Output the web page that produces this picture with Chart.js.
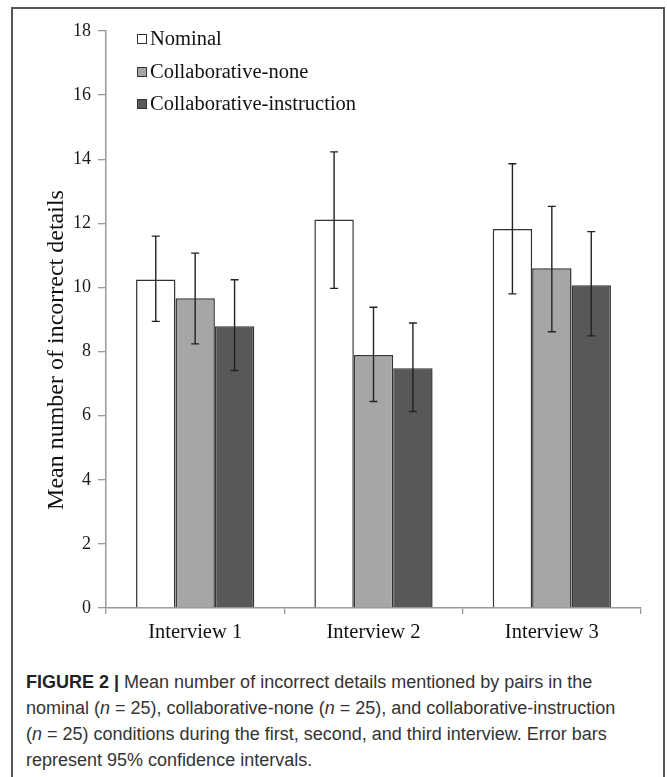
<!DOCTYPE html>
<html>
<head>
<meta charset="utf-8">
<script src="https://cdn.jsdelivr.net/npm/chart.js@4/dist/chart.umd.min.js"></script>
<style>
  body { margin: 0; background: #fff; }
  #wrap { position: relative; width: 667px; height: 777px; overflow: hidden; }
  #frame { position: absolute; left: 11px; top: 7px; width: 654px; height: 800px; border: 2px solid #555; box-sizing: border-box; }
  #chart { position: absolute; left: 0; top: 0; }
  #caption { position: absolute; left: 26px; top: 669px; font-family: "Liberation Sans", Arial, sans-serif; font-size: 18px; line-height: 26px; color: #333; white-space: nowrap; }
  #caption b { color: #222; }
</style>
</head>
<body>
<div id="wrap">
  <div id="frame"></div>
  <canvas id="chart" width="667" height="660"></canvas>
  <div id="caption">
    <b>FIGURE 2 |</b> Mean number of incorrect details mentioned by pairs in the<br>
    nominal (<i>n</i> = 25), collaborative-none (<i>n</i> = 25), and collaborative-instruction<br>
    (<i>n</i> = 25) conditions during the first, second, and third interview. Error bars<br>
    represent 95% confidence intervals.
  </div>
</div>
<script>
const categories = ["Interview 1", "Interview 2", "Interview 3"];
const seriesNames = ["Nominal", "Collaborative-none", "Collaborative-instruction"];

const nominal = [10.25, 12.12, 11.82];
const nominalLow = [8.94, 9.97, 9.80];
const nominalHigh = [11.60, 14.23, 13.86];

const collabNone = [9.66, 7.89, 10.60];
const collabNoneLow = [8.24, 6.44, 8.62];
const collabNoneHigh = [11.07, 9.38, 12.53];

const collabInstr = [8.79, 7.48, 10.07];
const collabInstrLow = [7.41, 6.13, 8.49];
const collabInstrHigh = [10.24, 8.89, 11.74];

const yTicks = [0, 2, 4, 6, 8, 10, 12, 14, 16, 18];
const yTitle = "Mean number of incorrect details";

const fills = ["#ffffff", "#a6a6a6", "#585858"];
const serif = "'Liberation Serif', 'Times New Roman', serif";

// error bars drawn on top of each bar
const errorBars = {
  id: "errorBars",
  afterDatasetsDraw(chart) {
    const ctx = chart.ctx;
    const y = chart.scales.y;
    ctx.save();
    ctx.strokeStyle = "#222";
    ctx.lineWidth = 1.4;
    chart.data.datasets.forEach((ds, i) => {
      const meta = chart.getDatasetMeta(i);
      meta.data.forEach((bar, j) => {
        const top = y.getPixelForValue(ds.errHigh[j]);
        const bot = y.getPixelForValue(ds.errLow[j]);
        ctx.beginPath();
        ctx.moveTo(bar.x, top); ctx.lineTo(bar.x, bot);
        ctx.moveTo(bar.x - 4, top); ctx.lineTo(bar.x + 4, top);
        ctx.moveTo(bar.x - 4, bot); ctx.lineTo(bar.x + 4, bot);
        ctx.stroke();
      });
    });
    ctx.restore();
  }
};

// legend inside the plot + rotated y title
const extras = {
  id: "extras",
  afterDraw(chart) {
    const ctx = chart.ctx;
    ctx.save();
    const rows = [39, 72, 104];
    ctx.font = "20.5px " + serif;
    ctx.textBaseline = "middle";
    chart.data.datasets.forEach((ds, i) => {
      const bx = 137, by = rows[i] - 5;
      ctx.fillStyle = ds.backgroundColor;
      ctx.fillRect(bx, by, 10, 10);
      ctx.strokeStyle = "#333";
      ctx.lineWidth = 1;
      ctx.strokeRect(bx + 0.5, by + 0.5, 9, 9);
      ctx.fillStyle = "#111";
      ctx.fillText(ds.label, 150, rows[i] + 1);
    });
    ctx.translate(57, 350);
    ctx.rotate(-Math.PI / 2);
    ctx.font = "24px " + serif;
    ctx.textAlign = "center";
    ctx.fillStyle = "#111";
    ctx.fillText(yTitle, 0, 0);
    ctx.restore();
  }
};

new Chart(document.getElementById("chart"), {
  type: "bar",
  data: {
    labels: categories,
    datasets: [
      { label: seriesNames[0], data: nominal, errLow: nominalLow, errHigh: nominalHigh, backgroundColor: fills[0] },
      { label: seriesNames[1], data: collabNone, errLow: collabNoneLow, errHigh: collabNoneHigh, backgroundColor: fills[1] },
      { label: seriesNames[2], data: collabInstr, errLow: collabInstrLow, errHigh: collabInstrHigh, backgroundColor: fills[2] }
    ]
  },
  options: {
    responsive: false,
    animation: false,
    datasets: {
      bar: { borderColor: "#333", borderWidth: 1.5, borderSkipped: "bottom", categoryPercentage: 0.663, barPercentage: 1 }
    },
    layout: { padding: { left: 0, top: 31, right: 26, bottom: 0 } },
    plugins: { legend: { display: false }, tooltip: { enabled: false } },
    scales: {
      y: {
        min: 0, max: 18,
        afterBuildTicks: s => { s.ticks = yTicks.map(v => ({ value: v })); },
        afterFit: s => { s.width = 106; },
        ticks: { font: { family: serif, size: 18 }, color: "#1a1a1a", padding: 7 },
        grid: { drawOnChartArea: false, tickLength: 8, color: "#999", lineWidth: 1.3 },
        border: { color: "#999", width: 1.5 }
      },
      x: {
        afterFit: s => { s.height = 52; },
        ticks: { font: { family: serif, size: 20.5 }, color: "#111", padding: 6 },
        grid: { drawOnChartArea: false, offset: true, tickLength: 6, color: "#999", lineWidth: 1.3 },
        border: { color: "#999", width: 1.5 }
      }
    }
  },
  plugins: [errorBars, extras]
});
</script>
</body>
</html>
